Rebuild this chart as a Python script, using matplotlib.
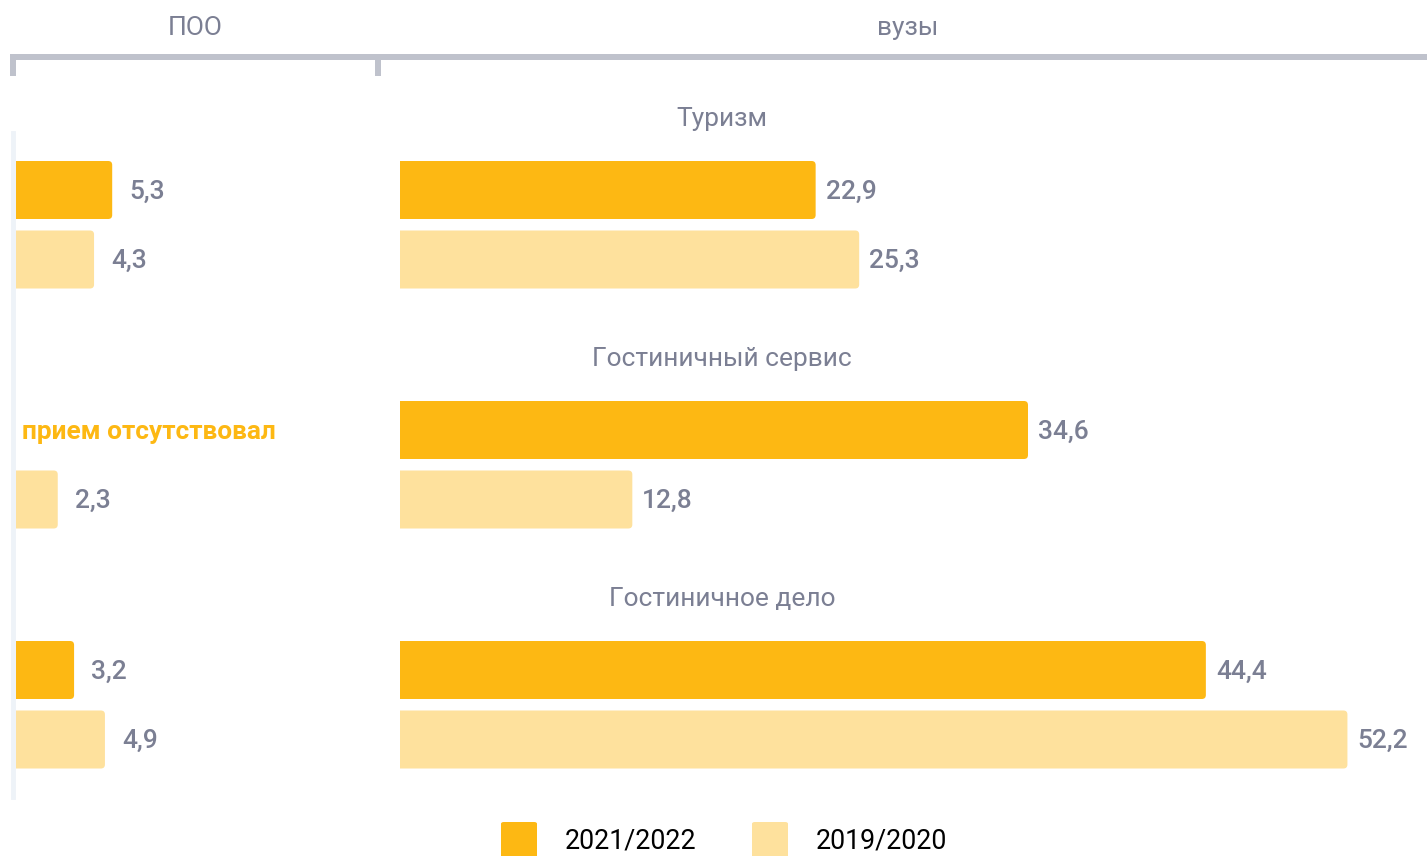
import matplotlib.pyplot as plt
from matplotlib.patches import FancyBboxPatch
from matplotlib.lines import Line2D
import matplotlib.transforms as mtransforms

plt.rcParams['font.family'] = ['Roboto', 'DejaVu Sans']

# ------------- Data --------------
categories = ['Туризм', 'Гостиничный сервис', 'Гостиничное дело']
years = ['2021/2022', '2019/2020']
poo_2122 = [5.3, None, 3.2]      # None: приема не было
poo_1920 = [4.3, 2.3, 4.9]
vuz_2122 = [22.9, 34.6, 44.4]
vuz_1920 = [25.3, 12.8, 52.2]
header_left = 'ПОО'
header_right = 'вузы'
no_intake_text = 'прием отсутствовал'

# ------------- Styles --------------
c_dark = '#FDB813'
c_light = '#FEE19D'
c_text = '#7B7F93'
c_bracket = '#BFC2CC'

W, H = 1427, 856
fig = plt.figure(figsize=(W / 100, H / 100), dpi=100)

px_per_unit = 18.15
y_top_px, y_bot_px = 133, 797
ax_l = fig.add_axes([16 / W, 1 - y_bot_px / H, 362 / W, (y_bot_px - y_top_px) / H])
ax_r = fig.add_axes([400 / W, 1 - y_bot_px / H, 1027 / W, (y_bot_px - y_top_px) / H])

# group spacing = 1 unit = 240 px; category label at group index
bar_h = 58 / 240
off_dark = 73 / 240
off_light = 142.5 / 240
lbl_shift = 1.5 / 240
ylim = ((y_bot_px - 117) / 240, (y_top_px - 117) / 240)


def rounded(ax, bars):
    # replace square bars with ones that have rounded right corners
    r_px = 4
    ux = r_px / px_per_unit
    uy = r_px / 240
    for b in bars:
        x0, y0 = b.get_x(), b.get_y()
        w, h = b.get_width(), b.get_height()
        p = FancyBboxPatch((x0 - 1, y0), w + 1, h,
                           boxstyle=f'round,pad=0,rounding_size={ux}',
                           mutation_aspect=uy / ux,
                           fc=b.get_facecolor(), ec='none', clip_on=True)
        ax.add_patch(p)
        b.remove()


def draw_panel(ax, dark, light, gap_px):
    xs = list(range(len(categories)))
    yd = [g + off_dark for g in xs]
    yl = [g + off_light for g in xs]
    dv = [v if v is not None else 0 for v in dark]
    b1 = ax.barh(yd, dv, height=bar_h, color=c_dark)
    b2 = ax.barh(yl, light, height=bar_h, color=c_light)
    for y, v in zip(yd, dark):
        if v is not None:
            ax.text(v + gap_px / px_per_unit, y + lbl_shift, f'{v:.1f}'.replace('.', ','),
                    va='center', ha='left', fontsize=19, color=c_text,
                    fontweight='medium')
    for y, v in zip(yl, light):
        ax.text(v + gap_px / px_per_unit, y + lbl_shift, f'{v:.1f}'.replace('.', ','),
                va='center', ha='left', fontsize=19, color=c_text,
                fontweight='medium')
    rounded(ax, list(b1) + list(b2))
    ax.set_ylim(*ylim)
    ax.axis('off')


draw_panel(ax_l, poo_2122, poo_1920, 17)
ax_l.set_xlim(0, 362 / px_per_unit)
draw_panel(ax_r, vuz_2122, vuz_1920, 10)
ax_r.set_xlim(0, 1027 / px_per_unit)

for g, v in enumerate(poo_2122):
    if v is None:
        ax_l.text(6 / px_per_unit, g + off_dark + lbl_shift, no_intake_text, va='center',
                  ha='left', fontsize=18.9, color=c_dark, fontweight='bold')

trans = mtransforms.blended_transform_factory(ax_r.transAxes, ax_r.transData)
for g, cat in enumerate(categories):
    ax_r.text(322 / 1027, g + 2 / 240, cat, transform=trans, ha='center', va='center',
              fontsize=19, color=c_text, clip_on=False)

# light vertical line at the left
fig.add_artist(Line2D([13 / W, 13 / W], [1 - y_top_px / H, 1 - y_bot_px / H],
                      color='#EEF3F8', lw=3.5))

# header bracket
lw_b = 6 * 72 / 100
fig.add_artist(Line2D([10 / W, 1], [1 - 57 / H, 1 - 57 / H], color=c_bracket,
                      lw=lw_b, solid_capstyle='butt'))
for xp in (13, 378):
    fig.add_artist(Line2D([xp / W, xp / W], [1 - 54 / H, 1 - 76 / H], color=c_bracket,
                          lw=lw_b, solid_capstyle='butt'))
fig.text(195 / W, 1 - 28 / H, header_left, ha='center', va='center', fontsize=19, color=c_text)
fig.text(908 / W, 1 - 28 / H, header_right, ha='center', va='center', fontsize=19, color=c_text)

# legend
for (sx, tx), col, lab in zip([(501, 565), (752, 816)], [c_dark, c_light], years):
    fig.add_artist(FancyBboxPatch((sx / W, 1 - 860 / H), 36 / W, 38 / H,
                                  boxstyle='round,pad=0,rounding_size=0.002',
                                  transform=fig.transFigure, fc=col, ec='none'))
    fig.text(tx / W, 1 - 841 / H, lab, ha='left', va='center', fontsize=19.3, color='black')

fig.savefig('out.png', dpi=100)
